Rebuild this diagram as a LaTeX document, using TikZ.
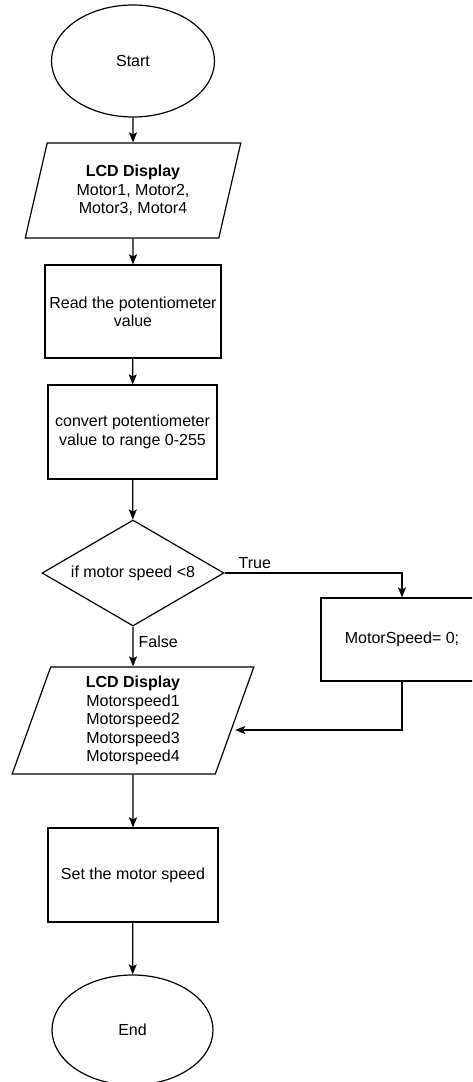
\documentclass[tikz,border=0pt]{standalone}
\usepackage{fontspec}
\setmainfont{Liberation Sans}
\usetikzlibrary{shapes.geometric,arrows.meta}

\begin{document}
\begin{tikzpicture}[x=1pt, y=1pt, line width=1.2pt,
        every node/.style={font=\fontsize{16}{18.4}\selectfont, align=center, inner sep=0pt},
        terminal/.style={draw, ellipse, minimum width=163pt, minimum height=112pt},
        process/.style={draw, rectangle},
        io/.style={draw, trapezium, trapezium stretches=true},
        decision/.style={draw, diamond, aspect=1.7},
        flow/.style={-{Stealth[length=10pt, width=8pt, inset=2pt]}}]
    \useasboundingbox (0,0) rectangle (472,-1082);
    \clip (0,0) rectangle (472,-1082);

    \node[terminal] (start) at (133,-61) {Start};
    \node[io, trapezium left angle=74, trapezium right angle=106,
        minimum width=216pt, minimum height=95pt] (lcdA) at (133,-190.5)
        {\textbf{LCD Display}\\Motor1, Motor2,\\Motor3, Motor4};
    \node[process, minimum width=176pt, minimum height=93pt] (read) at (133,-311.5)
        {Read the potentiometer\\value};
    \node[process, minimum width=169pt, minimum height=94pt] (conv) at (132.5,-432)
        {convert potentiometer\\value to range 0-255};
    \node[decision, minimum width=182pt, minimum height=106pt] (dec) at (133,-573)
        {if motor speed <8};
    \node[process, minimum width=162pt, minimum height=83pt] (ms) at (402,-639.5)
        {MotorSpeed= 0;};
    \node[io, trapezium left angle=76, trapezium right angle=104,
        minimum width=242pt, minimum height=107pt] (lcdB) at (133,-720.5)
        {\textbf{LCD Display}\\Motorspeed1\\Motorspeed2\\Motorspeed3\\Motorspeed4};
    \node[process, minimum width=170pt, minimum height=94pt] (setm) at (133,-875)
        {Set the motor speed};
    \node[terminal, minimum width=161pt, minimum height=110pt] (end) at (132.5,-1030) {End};

    \draw[flow] (start) -- (lcdA);
    \draw[flow] (lcdA) -- (read);
    \draw[flow] (read) -- (conv);
    \draw[flow] (conv) -- (dec);
    \draw[flow] (dec.east) -| node[pos=0.085, above, inner sep=4pt] (lblTrue) {True} (ms.north);
    \draw[flow] (dec.south) -- node[pos=0.37, right, inner sep=5pt] (lblFalse) {False} (lcdB.north);
    \draw[flow] (ms.south) |- ([yshift=-9.5pt]lcdB.east);
    \draw[flow] (lcdB) -- (setm);
    \draw[flow] (setm) -- (end);
\end{tikzpicture}
\end{document}
